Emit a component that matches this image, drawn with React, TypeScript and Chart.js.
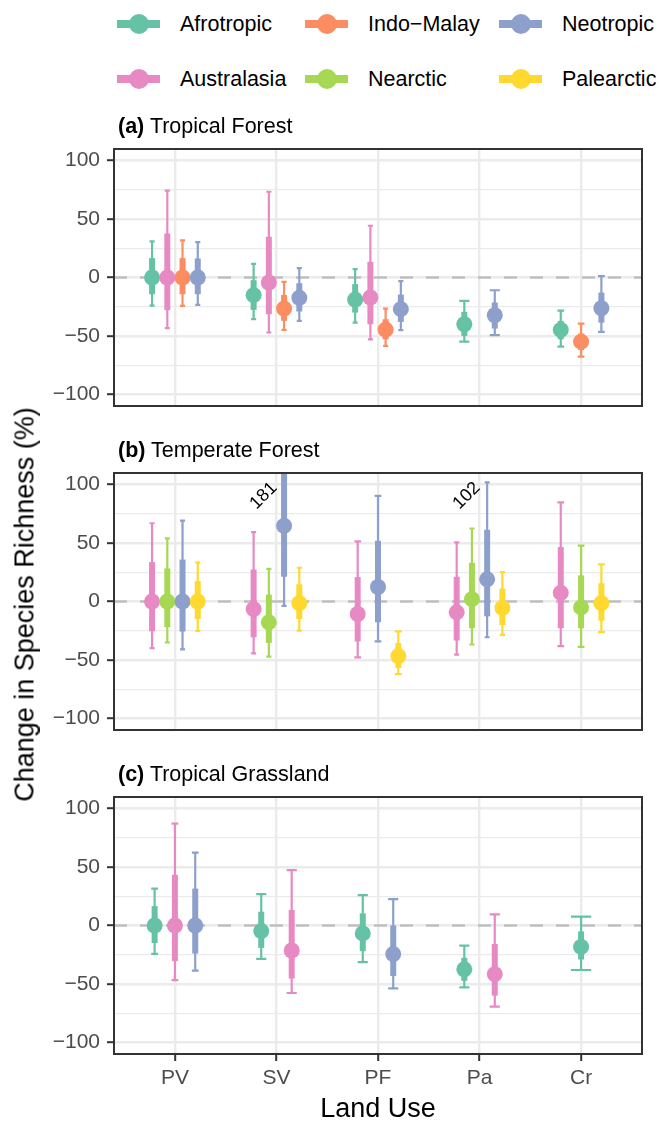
import React, { useEffect, useRef } from "react";
import { Chart, registerables } from "chart.js";
Chart.register(...registerables);

// ---------- data ----------
const categories = ["PV", "SV", "PF", "Pa", "Cr"];
const regionNames = ["Afrotropic", "Australasia", "Indo\u2212Malay", "Nearctic", "Neotropic", "Palearctic"];
const regionColors = ["#66C2A5", "#E78AC3", "#FC8D62", "#A6D854", "#8DA0CB", "#FFD92F"];
const yTickValues = [-100, -75, -50, -25, 0, 25, 50, 75, 100];

// each row: [outer low, inner low, estimate, inner high, outer high] per land use
// (a) Tropical Forest
const tfAfrotropic = [[-24, -14.3, 0, 16.6, 30.9], [-35.7, -27.7, -15.1, -2.3, 11.7], [-38.6, -30, -18.9, -5.7, 7.1], [-54.9, -50, -40, -29.4, -20], [-59.1, -52.9, -44.9, -37.1, -28.3]];
const tfAustralasia = [[-43.4, -28, 0, 37.7, 74.3], [-47.1, -31.4, -4.3, 34.9, 73.4], [-52.9, -40, -17.1, 13.4, 44.3], null, null];
const tfIndoMalay = [[-24.3, -14.3, 0, 16.6, 31.7], [-44.9, -37.1, -26.6, -14.9, -3.7], [-58.6, -52.9, -44.6, -35.7, -26.6], null, [-67.7, -62, -54.9, -48, -39.4]];
const tfNeotropic = [[-23.4, -14.3, 0, 16.3, 30.3], [-37.1, -29.1, -17.4, -4.9, 8], [-45.1, -38, -27.1, -14.6, -3.1], [-49.4, -43.7, -32.3, -21.4, -10.9], [-46.6, -38.6, -26.3, -12.9, 1.1]];
// (b) Temperate Forest
const teAustralasia = [[-39.9, -25.5, 0, 33.7, 67], [-44.4, -30.6, -6.5, 27.4, 59.4], [-47.8, -34.2, -10.7, 20.9, 51.5], [-45.5, -33.4, -9.3, 21.2, 50.6], [-38.2, -22.9, 7.4, 46.7, 84.9]];
const teNearctic = [[-35.1, -22, 0, 28.3, 54], [-47.2, -35.4, -17.8, 5.9, 28], null, [-36.8, -22.9, 2, 33.1, 62.5], [-38.8, -22.9, -5.1, 22.3, 47.8]];
const teNeotropic = [[-41, -25.7, 0, 35.9, 69.3], [-3.7, 21.2, 64.8, 125, 181], [-34.2, -17.8, 12.4, 52, 90.5], [-30.6, -12.7, 19, 61.4, 102], null];
const tePalearctic = [[-25.2, -15, 0, 17.5, 33.4], [-24.9, -15, -1.4, 14.7, 28.9], [-62.2, -56.9, -46.7, -35.6, -25.5], [-28.6, -20.1, -5.4, 11, 25.2], [-26.3, -16.4, -1.4, 15.6, 31.7]];
// (c) Tropical Grassland
const tgAfrotropic = [[-24.3, -15, 0, 16.6, 31.6], [-28.5, -19.2, -4.8, 11.8, 26.8], [-31.3, -22, -6.8, 10.4, 26], [-53, -47.4, -37.5, -27.6, -17.2], [-38.1, -29.1, -18.3, -5.1, 7.6]];
const tgAustralasia = [[-46.8, -30.5, 0, 43.4, 87.2], [-57.8, -45.4, -21.4, 13.3, 47.4], null, [-69.4, -60, -41.7, -15.8, 9.6], null];
const tgNeotropic = [[-38.6, -24, 0, 31.6, 62.3], null, [-53.9, -43.2, -24.5, 0, 22.6], null, null];

const panels: any[] = [
  { tag: "(a)", title: "Tropical Forest", top: 149, series: [[0, tfAfrotropic], [1, tfAustralasia], [2, tfIndoMalay], [4, tfNeotropic]] },
  { tag: "(b)", title: "Temperate Forest", top: 473, series: [[1, teAustralasia], [3, teNearctic], [4, teNeotropic], [5, tePalearctic]] },
  { tag: "(c)", title: "Tropical Grassland", top: 797, series: [[0, tgAfrotropic], [1, tgAustralasia], [4, tgNeotropic]] },
];

// ---------- layout / style ----------
const FONT = '"Liberation Sans", Arial, Helvetica, sans-serif';
const W = 659;
const H = 1122;
const PLOT_LEFT = 114;
const PLOT_RIGHT = 642;
const PANEL_H = 257;
const PAD = 30;
const X_AXIS_H = 68;
const DODGE = 0.6;
const CAP = 0.2;
const Y_LIM = 110;
const LABEL_Y = 90.5;
const LABEL_DX = 20.5;

const fmt = (v: number) => (v < 0 ? "\u2212" + Math.abs(v) : String(v));

const rangePlugin = {
  id: "ranges",
  beforeDatasetsDraw(chart: any) {
    const { ctx, chartArea: a, scales } = chart;
    const xs = scales.x;
    const ys = scales.y;
    ctx.save();
    ctx.beginPath();
    ctx.rect(a.left, a.top, a.right - a.left, a.bottom - a.top);
    ctx.clip();
    // zero reference line
    const y0 = ys.getPixelForValue(0);
    ctx.strokeStyle = "#BEBEBE";
    ctx.lineWidth = 2.4;
    ctx.setLineDash([13, 13]);
    ctx.beginPath();
    ctx.moveTo(a.left, y0);
    ctx.lineTo(a.right, y0);
    ctx.stroke();
    ctx.setLineDash([]);
    const ds = chart.data.datasets;
    // thin outer ranges with caps
    ds.forEach((d: any) => {
      ctx.strokeStyle = d.backgroundColor;
      ctx.lineWidth = 2.2;
      ctx.lineCap = "butt";
      d.data.forEach((p: any) => {
        const px = xs.getPixelForValue(p.x);
        const half = (xs.getPixelForValue(p.x + p.cap / 2) - xs.getPixelForValue(p.x - p.cap / 2)) / 2;
        const yl = ys.getPixelForValue(p.lo95);
        const yh = ys.getPixelForValue(p.hi95);
        ctx.beginPath();
        ctx.moveTo(px, yl);
        ctx.lineTo(px, yh);
        ctx.moveTo(px - half, yl);
        ctx.lineTo(px + half, yl);
        ctx.moveTo(px - half, yh);
        ctx.lineTo(px + half, yh);
        ctx.stroke();
      });
    });
    // thick inner ranges
    ds.forEach((d: any) => {
      ctx.strokeStyle = d.backgroundColor;
      ctx.lineWidth = 6;
      d.data.forEach((p: any) => {
        const px = xs.getPixelForValue(p.x);
        ctx.beginPath();
        ctx.moveTo(px, ys.getPixelForValue(p.lo50));
        ctx.lineTo(px, ys.getPixelForValue(p.hi50));
        ctx.stroke();
      });
    });
    ctx.restore();
  },
  afterDatasetsDraw(chart: any) {
    const { ctx, scales } = chart;
    const xs = scales.x;
    const ys = scales.y;
    ctx.save();
    ctx.fillStyle = "#000";
    ctx.font = `18px ${FONT}`;
    ctx.textAlign = "center";
    ctx.textBaseline = "middle";
    chart.data.datasets.forEach((d: any) => {
      d.data.forEach((p: any) => {
        if (p.hi95 > 100) {
          const px = xs.getPixelForValue(p.x) - LABEL_DX;
          const py = ys.getPixelForValue(LABEL_Y);
          ctx.save();
          ctx.translate(px, py);
          ctx.rotate(-Math.PI / 4);
          ctx.fillText(String(Math.round(p.hi95)), 0, 0);
          ctx.restore();
        }
      });
    });
    ctx.restore();
  },
  afterDraw(chart: any) {
    const { ctx, chartArea: a } = chart;
    ctx.save();
    ctx.strokeStyle = "#333333";
    ctx.lineWidth = 2;
    ctx.strokeRect(a.left, a.top, a.right - a.left, a.bottom - a.top);
    ctx.restore();
  },
};

function Panel({ panel, showX }: { panel: any; showX: boolean }) {
  const ref = useRef<HTMLCanvasElement>(null);
  const canvasTop = panel.top - PAD;
  const height = showX ? H - canvasTop : PANEL_H + 2 * PAD;

  useEffect(() => {
    const series = panel.series;
    const datasets = series.map(([ri, rows]: any, k: number) => {
      const pts: any[] = [];
      rows.forEach((r: any, c: number) => {
        if (!r) return;
        const present = series.filter(([, rr]: any) => rr[c]).map(([i]: any) => i);
        const n = present.length;
        const slot = DODGE / n;
        const pos = present.indexOf(ri);
        pts.push({
          x: c + 1 - DODGE / 2 + slot * (pos + 0.5),
          y: r[2],
          lo95: r[0],
          lo50: r[1],
          hi50: r[3],
          hi95: r[4],
          cap: CAP / n,
        });
      });
      return {
        type: "scatter",
        label: regionNames[ri],
        data: pts,
        backgroundColor: regionColors[ri],
        pointBackgroundColor: regionColors[ri],
        pointRadius: 8,
        pointHoverRadius: 8,
        pointBorderWidth: 0,
        order: -k,
      };
    });

    const chart = new Chart(ref.current as HTMLCanvasElement, {
      type: "scatter",
      data: { datasets },
      plugins: [rangePlugin],
      options: {
        animation: false,
        responsive: false,
        devicePixelRatio: 1,
        events: [],
        layout: { padding: { left: 0, right: W - PLOT_RIGHT, top: PAD, bottom: showX ? 0 : PAD } },
        plugins: { legend: { display: false }, tooltip: { enabled: false } },
        scales: {
          x: {
            type: "linear",
            min: 0.4,
            max: 5.6,
            afterBuildTicks: (s: any) => {
              s.ticks = categories.map((_, i) => ({ value: i + 1 }));
            },
            afterFit: (s: any) => {
              s.height = showX ? X_AXIS_H : 0;
            },
            border: { display: false },
            grid: {
              color: "#EBEBEB",
              lineWidth: 2.4,
              drawTicks: showX,
              tickLength: 7,
              tickColor: "#333333",
              tickWidth: 2,
            },
            ticks: {
              display: showX,
              autoSkip: false,
              maxRotation: 0,
              padding: 5,
              color: "#4D4D4D",
              font: { family: FONT, size: 21 },
              callback: (v: any) => categories[Math.round(v) - 1] ?? "",
            },
          },
          y: {
            type: "linear",
            min: -Y_LIM,
            max: Y_LIM,
            afterBuildTicks: (s: any) => {
              s.ticks = yTickValues.map((v) => ({ value: v }));
            },
            afterFit: (s: any) => {
              s.width = PLOT_LEFT;
            },
            border: { display: false },
            grid: {
              color: "#EBEBEB",
              lineWidth: (c: any) => (c.tick && c.tick.value % 50 === 0 ? 2.4 : 1.2),
              drawTicks: true,
              tickLength: 7,
              tickWidth: 2,
              tickColor: (c: any) => (c.tick && c.tick.value % 50 === 0 ? "#333333" : "rgba(0,0,0,0)"),
            },
            ticks: {
              padding: 7,
              color: "#4D4D4D",
              font: { family: FONT, size: 21 },
              callback: (v: any) => (v % 50 === 0 ? fmt(v) : ""),
            },
          },
        },
      } as any,
    } as any);
    return () => chart.destroy();
  }, [panel, showX]);

  return (
    <canvas
      ref={ref}
      width={W}
      height={height}
      style={{ position: "absolute", left: 0, top: canvasTop, width: W, height, display: "block" }}
    />
  );
}

const legendColX = [117, 305, 499];
const legendTextX = [180, 368, 562];
const legendRowY = [24, 79];

export default function App() {
  const legendItems: any[] = [];
  regionNames.forEach((name, i) => {
    const col = Math.floor(i / 2);
    const row = i % 2;
    legendItems.push({ name, color: regionColors[i], kx: legendColX[col], tx: legendTextX[col], y: legendRowY[row] });
  });
  return (
    <div
      style={{
        position: "absolute",
        left: 0,
        top: 0,
        width: W,
        height: H,
        background: "#fff",
        overflow: "hidden",
        fontFamily: FONT,
        color: "#000",
      }}
    >
      {panels.map((p, i) => (
        <Panel key={i} panel={p} showX={i === panels.length - 1} />
      ))}
      {panels.map((p, i) => (
        <div
          key={"t" + i}
          style={{
            position: "absolute",
            left: 118,
            top: p.top - 22.5 - 10.5,
            fontSize: 21.5,
            lineHeight: "21.5px",
            whiteSpace: "nowrap",
          }}
        >
          <b>{p.tag}</b> {p.title}
        </div>
      ))}
      {legendItems.map((it, i) => (
        <React.Fragment key={"l" + i}>
          <div style={{ position: "absolute", left: it.kx, top: it.y - 4, width: 43, height: 8, background: it.color }} />
          <div
            style={{
              position: "absolute",
              left: it.kx + 21.5 - 10,
              top: it.y - 10,
              width: 20,
              height: 20,
              borderRadius: "50%",
              background: it.color,
            }}
          />
          <div
            style={{
              position: "absolute",
              left: it.tx,
              top: it.y - 10.5,
              fontSize: 21.5,
              lineHeight: "21.5px",
              whiteSpace: "nowrap",
            }}
          >
            {it.name}
          </div>
        </React.Fragment>
      ))}
      <div
        style={{
          position: "absolute",
          left: 24.5 - 350,
          top: 604 - 13.5,
          width: 700,
          height: 27,
          fontSize: 27,
          lineHeight: "27px",
          textAlign: "center",
          transform: "rotate(-90deg)",
          whiteSpace: "nowrap",
        }}
      >
        Change in Species Richness (%)
      </div>
      <div
        style={{
          position: "absolute",
          left: (PLOT_LEFT + PLOT_RIGHT) / 2 - 200,
          top: 1108 - 13.5,
          width: 400,
          fontSize: 27,
          lineHeight: "27px",
          textAlign: "center",
          whiteSpace: "nowrap",
        }}
      >
        Land Use
      </div>
    </div>
  );
}
